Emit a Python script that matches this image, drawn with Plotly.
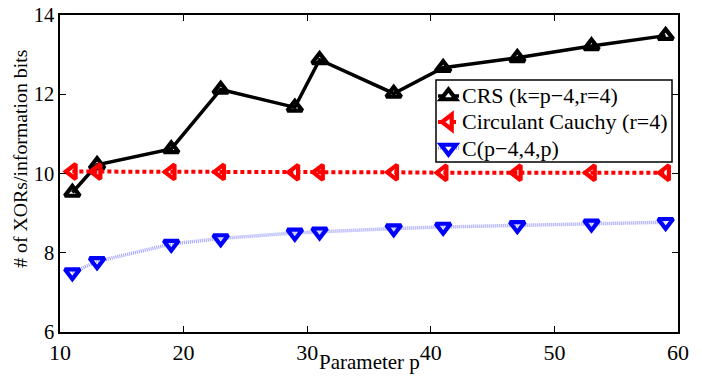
import plotly.graph_objects as go

p_values = [11, 13, 19, 23, 29, 31, 37, 41, 47, 53, 59]
crs = [9.52, 10.22, 10.62, 12.12, 11.67, 12.87, 12.02, 12.67, 12.92, 13.22, 13.48]
cauchy = [10.05, 10.05, 10.04, 10.04, 10.03, 10.03, 10.03, 10.02, 10.02, 10.02, 10.02]
cp = [7.5, 7.78, 8.22, 8.36, 8.5, 8.53, 8.61, 8.65, 8.69, 8.73, 8.77]

names = ["CRS (k=p\u22124,r=4)", "Circulant Cauchy (r=4)", "C(p\u22124,4,p)"]
x_title = "Parameter p"
y_title = "# of XORs/information bits"

font = "Liberation Serif"

MW = 4.2
styles = [
    dict(line=dict(color="black", width=3.5),
         marker=dict(symbol="triangle-up-open", size=13, color="black", line=dict(width=MW))),
    dict(line=dict(color="red", width=4, dash="4px,3px"),
         marker=dict(symbol="triangle-left-open", size=13, color="red", line=dict(width=MW))),
    dict(line=dict(color="#a0a0ff", width=3.5, dash="1px,1px"),
         marker=dict(symbol="triangle-down-open", size=13, color="blue", line=dict(width=MW))),
]

fig = go.Figure()
for name, yv, st in zip(names, [crs, cauchy, cp], styles):
    fig.add_trace(go.Scatter(x=p_values, y=yv, name=name, mode="lines+markers",
                             showlegend=False, **st))

axis_common = dict(
    showline=True, linecolor="black", linewidth=1.5, mirror="ticks",
    ticks="inside", ticklen=6, tickcolor="black", tickwidth=1,
    showgrid=False, zeroline=False, automargin=False, ticklabeloverflow="allow",
)

# ---- hand-drawn legend (layout decoration in paper coordinates) ----
box = dict(x0=0.6084, x1=0.9903, y0=0.5363, y1=0.795)
rows_y = [0.7445, 0.6625, 0.5804]
key_x0, key_x1, key_xc = 0.6117, 0.6456, 0.6286
text_x = 0.6472

def tri_path(kind):
    r, rt, r2 = 6.5, 7.5, 3.25
    if kind == "up":
        pts = [(-rt, -r2), (rt, -r2), (0, r)]
    elif kind == "down":
        pts = [(-rt, r2), (rt, r2), (0, -r)]
    else:  # left
        pts = [(r2, -rt), (r2, rt), (-r, 0)]
    return "M{},{} L{},{} L{},{} Z".format(*[c for p in pts for c in p])

shapes = [dict(type="rect", xref="paper", yref="paper", **box,
               line=dict(color="black", width=1.5), fillcolor="white", layer="above")]
annotations = []
for name, yy, st, kind in zip(names, rows_y, styles, ["up", "left", "down"]):
    shapes.append(dict(type="line", xref="paper", yref="paper",
                       x0=key_x0, x1=key_x1, y0=yy, y1=yy,
                       line=dict(color=st["line"]["color"], width=st["line"]["width"],
                                 dash=st["line"].get("dash", "solid")), layer="above"))
    shapes.append(dict(type="path", xref="paper", yref="paper",
                       xsizemode="pixel", ysizemode="pixel",
                       xanchor=key_xc, yanchor=yy, path=tri_path(kind),
                       line=dict(color=st["marker"]["color"], width=MW),
                       fillcolor="white", layer="above"))
    annotations.append(dict(text=name, xref="paper", yref="paper", x=text_x, y=yy,
                            xanchor="left", yanchor="middle", showarrow=False,
                            font=dict(family=font, size=22, color="black")))

annotations += [
    dict(text=x_title, xref="paper", yref="paper", x=0.5, y=-0.095,
         xanchor="center", yanchor="middle", showarrow=False,
         font=dict(family=font, size=21, color="black")),
    dict(text=y_title, xref="paper", yref="paper", x=-0.065, y=0.546,
         xanchor="center", yanchor="middle", textangle=-90, showarrow=False,
         font=dict(family=font, size=19.8, color="black")),
]

fig.update_layout(
    width=702, height=377,
    margin=dict(l=60, r=24, t=15, b=45),
    paper_bgcolor="white", plot_bgcolor="white",
    font=dict(family=font, color="black"),
    xaxis=dict(range=[10, 60], tickvals=[10, 20, 30, 40, 50, 60],
               tickfont=dict(family=font, size=22, color="black"),
               **axis_common),
    yaxis=dict(range=[6, 14], tickvals=[6, 8, 10, 12, 14],
               tickfont=dict(family=font, size=20.5, color="black"),
               **axis_common),
    showlegend=False,
    shapes=shapes,
    annotations=annotations,
)

fig.write_html("out.html",
               config={"displayModeBar": False},
               post_script="document.body.style.margin='0px';document.body.style.padding='0px';")
